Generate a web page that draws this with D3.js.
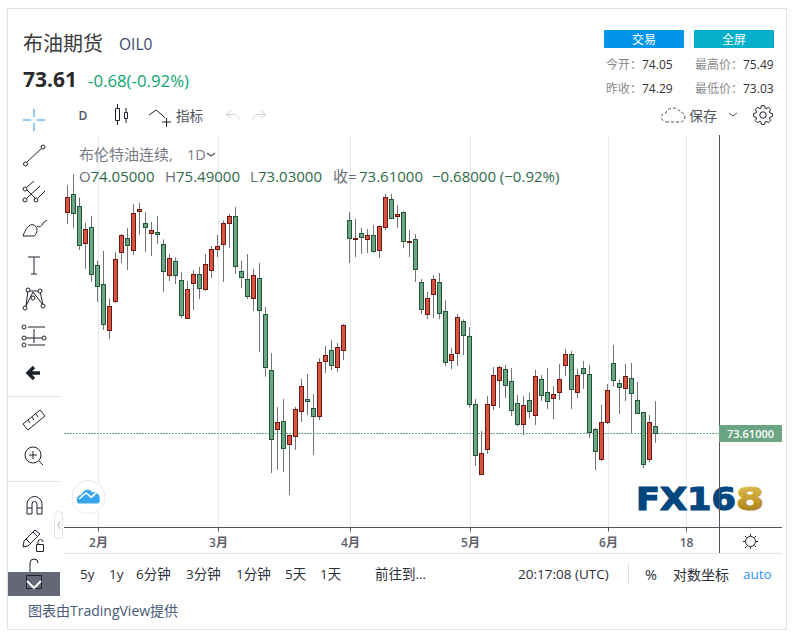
<!DOCTYPE html>
<html>
<head>
<meta charset="utf-8">
<script src="https://cdn.jsdelivr.net/npm/d3@7"></script>
<style>
  html, body { margin: 0; padding: 0; background: #fff; }
  svg { display: block; font-family: "Open Sans", "Noto Sans CJK SC", sans-serif; }
</style>
</head>
<body>
<svg id="chart" width="795" height="633"></svg>
<script>
// daily candles
const opens = [86.57,87.65,86.94,84.75,85.71,83.47,82.35,79.63,81.33,84.22,85.06,84.33,86.63,85.94,85.33,85.41,84.71,82.86,83.71,82.59,
  80.35,82.39,82.94,82.04,83.16,84.39,84.71,85.94,86.35,83.12,82.65,81.51,82.71,80.59,77.30,73.81,74.30,72.93,73.40,74.87,
  75.59,75.06,74.57,77.81,78.47,77.45,78.45,86.12,85.00,85.35,84.98,85.24,84.33,85.69,87.35,86.33,86.59,84.86,85.00,82.47,
  80.57,81.74,82.47,80.76,77.87,78.28,80.18,79.30,75.30,71.16,72.63,75.22,76.69,77.36,76.65,75.36,74.10,75.53,74.63,76.77,
  76.00,75.63,75.98,77.57,78.24,75.98,77.42,77.06,73.83,72.04,74.22,77.71,76.53,76.22,76.83,75.53,74.83,72.04,74.05];
const highs = [88.20,88.84,87.47,85.98,86.37,83.73,84.32,81.53,84.24,85.32,85.67,87.08,87.14,86.61,86.02,86.37,85.00,84.14,83.94,83.06,
  82.55,83.20,83.37,84.14,84.61,85.26,86.12,86.49,86.90,83.73,84.14,83.26,83.61,81.02,78.31,75.14,75.61,73.47,75.14,76.79,
  77.08,75.91,78.02,78.73,79.08,78.90,80.02,86.61,86.20,85.67,85.61,85.84,85.84,87.67,87.67,87.02,86.65,85.55,85.31,82.67,
  81.90,82.90,83.02,81.41,78.61,80.61,80.29,79.84,75.61,73.73,75.79,77.49,77.55,77.61,77.43,75.85,75.79,75.96,77.32,77.02,
  77.43,76.38,77.67,78.55,78.43,77.38,77.85,77.61,73.91,75.26,76.49,78.79,76.77,77.67,77.73,76.61,74.83,74.67,75.49];
const lows = [85.90,85.67,84.37,83.26,82.49,81.32,79.67,79.14,81.26,83.61,83.20,84.08,85.26,84.26,84.02,84.73,81.90,82.55,82.37,80.37,
  80.35,80.84,81.49,81.98,82.73,83.96,82.49,84.49,82.96,82.14,81.49,80.79,78.37,76.92,71.26,71.44,71.32,69.96,72.61,74.26,
  74.67,72.32,74.38,77.14,77.31,77.20,77.90,83.61,83.96,84.14,84.20,84.22,83.90,85.55,86.18,85.67,84.49,83.96,82.49,80.61,
  80.31,80.37,80.31,77.55,77.37,77.55,78.20,75.10,71.67,71.16,72.38,74.96,75.08,75.67,74.61,74.02,73.49,74.49,74.08,75.49,
  75.02,74.43,75.55,76.96,75.02,75.67,76.20,73.32,71.43,71.96,74.14,76.32,74.73,75.49,73.59,74.75,71.55,71.91,73.03];
const closes = [87.47,86.53,84.63,85.59,82.92,82.22,79.98,81.06,83.83,85.24,84.63,86.53,86.77,85.69,85.53,85.28,83.10,83.88,82.86,80.51,
  82.06,82.94,82.10,83.53,84.41,84.59,85.94,86.35,83.39,82.77,81.63,82.88,80.81,77.45,73.22,74.24,72.69,73.47,75.00,76.36,
  75.45,74.57,77.77,78.18,77.57,78.65,79.94,85.04,85.06,85.10,85.24,84.27,85.76,87.47,86.24,86.47,84.86,84.90,83.22,80.86,
  81.53,82.65,80.63,77.75,78.24,80.41,79.33,75.28,72.28,72.42,75.30,77.00,77.47,76.40,74.92,74.10,75.24,74.87,76.94,75.81,
  75.45,75.89,76.77,78.24,76.16,77.00,77.10,73.63,72.51,74.24,76.12,76.69,76.28,76.94,75.92,74.75,71.75,74.24,73.61];

const lastPrice = 73.61;
const crosshairBar = 108.67;
const monthBars = [5, 25, 47, 67, 90, 103];
const monthLabels = ["2月", "3月", "4月", "5月", "6月", "18"];

const legendParts = [
  { text: "O", at: 79, key: true }, { text: "74.05000", at: 90.5 },
  { text: "H", at: 165, key: true }, { text: "75.49000", at: 176 },
  { text: "L", at: 250, key: true }, { text: "73.03000", at: 258 },
  { text: "收=", at: 333, key: true }, { text: "73.61000", at: 359 },
  { text: "−0.68000 (−0.92%)", at: 432 }
];
const intervalButtons = [["5y", 80], ["1y", 109], ["6分钟", 136], ["3分钟", 186], ["1分钟", 236], ["5天", 285], ["1天", 320], ["前往到…", 375]];

const upColor = "#d75442", upBorder = "#6b1a12";
const downColor = "#6ba583", downBorder = "#225437";
const wickColor = "#737375", gridColor = "#e1ecf2", axisColor = "#50535e", lineColor = "#e0e3eb";

const svg = d3.select("#chart");

const x = d3.scaleLinear().domain([0, 98]).range([67.5, 655.5]);
const y = d3.scaleLinear().domain([70, 88]).range([494.37, 188.37]);

function label(txt, px, py, size, color, opts) {
  opts = opts || {};
  return svg.append("text").attr("x", px).attr("y", py)
    .attr("font-size", size).attr("fill", color)
    .attr("font-weight", opts.weight || null)
    .attr("text-anchor", opts.anchor || "start")
    .attr("dominant-baseline", "central")
    .text(txt);
}

// frame
svg.append("rect").attr("x", 7.5).attr("y", 8.5).attr("width", 779).attr("height", 621)
  .attr("fill", "#fff").attr("stroke", lineColor);

// header
label("布油期货", 23, 43, 20, "#3b3b3b");
label("OIL0", 119, 44, 15.5, "#3a4a6b");
label(lastPrice.toFixed(2), 23, 79, 21, "#2a2a2a", { weight: 700 });
label("-0.68(-0.92%)", 88, 80, 16.8, "#0da574");

svg.append("rect").attr("x", 604).attr("y", 30).attr("width", 80).attr("height", 18).attr("fill", "#0095e8");
svg.append("rect").attr("x", 694).attr("y", 30).attr("width", 80).attr("height", 18).attr("fill", "#06afc9");
label("交易", 644, 39.5, 12, "#fff", { anchor: "middle" });
label("全屏", 734, 39.5, 12, "#fff", { anchor: "middle" });

[["今开：", "74.05", 606, 642, 64], ["最高价：", "75.49", 695, 743, 64],
 ["昨收：", "74.29", 606, 642, 88], ["最低价：", "73.03", 695, 743, 88]].forEach(d => {
  label(d[0], d[2], d[4], 12, "#8a8a8a");
  label(d[1], d[3], d[4], 12, "#333");
});

// chart grid
const plot = svg.append("g");
plot.selectAll(".grid").data(monthBars).enter().append("line")
  .attr("class", "grid")
  .attr("x1", d => x(d) + 1).attr("x2", d => x(d) + 1)
  .attr("y1", 135).attr("y2", 527)
  .attr("stroke", gridColor);

// last price line
plot.append("line")
  .attr("x1", 64).attr("x2", 719)
  .attr("y1", y(lastPrice) + 0.5).attr("y2", y(lastPrice) + 0.5)
  .attr("stroke", downColor).attr("stroke-dasharray", "2 1");

// candles
const bars = d3.range(opens.length);
plot.selectAll(".wick").data(bars).enter().append("line")
  .attr("class", "wick")
  .attr("x1", i => x(i)).attr("x2", i => x(i))
  .attr("y1", i => y(highs[i])).attr("y2", i => y(lows[i]))
  .attr("stroke", wickColor);

plot.selectAll(".body").data(bars).enter().append("rect")
  .attr("class", "body")
  .attr("x", i => x(i) - 2)
  .attr("width", 4)
  .attr("y", i => Math.round(y(Math.max(opens[i], closes[i]))) + 0.5)
  .attr("height", i => Math.max(1, Math.round(Math.abs(y(opens[i]) - y(closes[i])))))
  .attr("fill", i => closes[i] >= opens[i] ? upColor : downColor)
  .attr("stroke", i => closes[i] >= opens[i] ? upBorder : downBorder);

// watermark logo
const defs = svg.append("defs");
const gold = defs.append("linearGradient").attr("id", "gold").attr("x1", 0).attr("x2", 0).attr("y1", 0).attr("y2", 1);
gold.append("stop").attr("offset", "0%").attr("stop-color", "#e8c860");
gold.append("stop").attr("offset", "55%").attr("stop-color", "#c49a2c");
gold.append("stop").attr("offset", "100%").attr("stop-color", "#9a7420");
svg.append("text").attr("x", 636).attr("y", 509.5)
  .attr("font-family", "'DejaVu Sans'").attr("font-weight", 700).attr("font-size", 32)
  .attr("fill", "#00467f").attr("stroke", "#00467f").attr("stroke-width", 1.2)
  .attr("textLength", 100).attr("lengthAdjust", "spacingAndGlyphs")
  .text("FX16");
svg.append("text").attr("x", 736).attr("y", 509.5)
  .attr("font-family", "'DejaVu Sans'").attr("font-weight", 700).attr("font-size", 32)
  .attr("fill", "url(#gold)").attr("stroke", "url(#gold)").attr("stroke-width", 1.2)
  .attr("textLength", 28).attr("lengthAdjust", "spacingAndGlyphs")
  .text("8");

// time axis
const axis = svg.append("g").attr("transform", "translate(0,527.5)")
  .call(d3.axisBottom(x).tickValues(monthBars).tickSize(4).tickPadding(6.5)
    .tickFormat((d, i) => monthLabels[i]));
axis.select(".domain").remove();
axis.append("line").attr("x1", 64).attr("x2", 782).attr("stroke", axisColor);
axis.selectAll(".tick").attr("transform", d => `translate(${x(d) + 1},0)`);
axis.selectAll(".tick line").attr("stroke", axisColor);
axis.selectAll(".tick text")
  .attr("font-family", "'Open Sans','Noto Sans CJK SC',sans-serif")
  .attr("font-size", 12).attr("font-weight", 600).attr("fill", "#5d606b");

// price axis + crosshair
svg.append("line")
  .attr("x1", x(crosshairBar)).attr("x2", x(crosshairBar))
  .attr("y1", 135).attr("y2", 553)
  .attr("stroke", axisColor);
svg.append("rect").attr("x", 719).attr("y", y(lastPrice) - 8).attr("width", 63).attr("height", 17).attr("fill", downColor);
label(lastPrice.toFixed(5), 750.5, y(lastPrice) + 0.5, 11, "#fff", { anchor: "middle", weight: 600 });
svg.append("line").attr("x1", 64).attr("x2", 782).attr("y1", 553.5).attr("y2", 553.5).attr("stroke", lineColor);

// legend
label("布伦特油连续,", 79, 154, 15, "#787b86");
label("1D", 187, 154, 14.5, "#787b86");
legendParts.forEach(d => label(d.text, d.at, 175.5, 15, d.key ? "#6a6d78" : "#2f6a49"));

function icon(d, color, width, fill) {
  return svg.append("path").attr("d", d)
    .attr("fill", fill || "none").attr("stroke", color || "#1e222d").attr("stroke-width", width || 1);
}
function dot(cx, cy, r, color) {
  svg.append("circle").attr("cx", cx).attr("cy", cy).attr("r", r || 2)
    .attr("fill", "#fff").attr("stroke", color || "#1e222d");
}
// gear outline with evenly spaced teeth
function gear(cx, cy, outer, inner, teeth) {
  const pts = [];
  for (let k = 0; k < teeth; k++) {
    const a = k * 2 * Math.PI / teeth, w = Math.PI / teeth;
    [[inner, -w * 0.85], [outer, -w * 0.4], [outer, w * 0.4], [inner, w * 0.85]].forEach(p => {
      pts.push([cx + p[0] * Math.cos(a + p[1]), cy + p[0] * Math.sin(a + p[1])]);
    });
  }
  return d3.line().curve(d3.curveLinearClosed)(pts);
}
icon("M207 153l4 3 4-3", "#50535e", 1.3);

// toolbar
label("D", 83, 115, 12, "#50535e", { anchor: "middle", weight: 600 });
icon("M115.5 108.5h4v12h-4zM117.5 104v4M117.5 121v4M124.5 112.5h3v6h-3zM126 108v4M126 119v4", "#1e222d");
icon("M149 115l7-5 6 5 3 3M162 122h9M166.5 118v9", "#1e222d");
label("指标", 176, 115.5, 13.5, "#50535e");
icon("M231 111l-5 3.5 5 3.5M226 114.5h8c3 0 4 2 5 5", "#d1d4dc");
icon("M261 111l5 3.5-5 3.5M266 114.5h-8c-3 0-4 2-5 5", "#d1d4dc");
icon("M668 122c-9 0-8-9-2-9 1-6 12-7 14-1 6 0 7 10 0 10z", "#50535e").attr("stroke-dasharray", "3 2");
label("保存", 689, 115.5, 14, "#50535e");
icon("M729 113l4 3 4-3", "#50535e");
svg.append("circle").attr("cx", 763).attr("cy", 115).attr("r", 3.2).attr("fill", "none").attr("stroke", "#1e222d");
icon(gear(763, 115, 9.5, 7, 8), "#1e222d");

// left tools
icon("M34 109v8M34 123v8M23 120h8M37 120h8", "#2196f3");
icon("M27 162l15-14", "#1e222d"); dot(25.5, 164); dot(43, 147);
icon("M27 187l7-6M27 198l13-12M27 190l9 9M38 198l7-7", "#1e222d"); dot(25, 189); dot(25, 200); dot(36, 200);
icon("M23 236h11c4-3 4-9 0-11-5-2-9 5-11 11zM37 226c3 2 5 0 6-3l4-3", "#1e222d");
icon("M28 257h12M34 257v17M31 274h6", "#1e222d");
icon("M28 290l-2 16 7-14 10 13-3-14-12 0", "#1e222d"); dot(28, 290); dot(40, 291); dot(33, 298); dot(25, 308); dot(43, 306);
icon("M28 327h17M26 338h19M28 345h17M34 329v14", "#1e222d"); dot(24, 327); dot(24, 338); dot(44, 338); dot(24, 345);
icon("M40 373H29M34 367l-6 6 6 6", "#1e222d", 3.4);
icon("M8 396.5h52M8 481.5h52", lineColor);
icon("M23 424l17-14 5 6-17 14zM28 420l2 3M32 417l2 3M36 414l2 3", "#1e222d");
svg.append("circle").attr("cx", 33).attr("cy", 455).attr("r", 8).attr("fill", "none").attr("stroke", "#1e222d");
icon("M29 455h8M33 451v8M39 461l4 4", "#1e222d");
icon("M27 514v-10a7.5 7.5 0 0 1 15 0v10h-5v-10a2.5 2.5 0 0 0-5 0v10zM27 508h5M37 508h5", "#1e222d");
icon("M24 541l11-11 5 4-12 12-5 1zM33 532l4 4M26 539l4 4", "#1e222d");
icon("M36.5 544.5h7v7h-7zM38 544v-2a2.5 2.5 0 0 1 5 0", "#1e222d");
svg.append("rect").attr("x", 8).attr("y", 572).attr("width", 52).attr("height", 24).attr("fill", "#646775");
icon("M30 572v-9a4 4 0 0 1 8 0M26.5 575.5h15v13h-15z", "#1e222d");
icon("M27 581l7 7 7-7", "#fff", 2);
svg.append("rect").attr("x", 54.5).attr("y", 511.5).attr("width", 8).attr("height", 27).attr("rx", 4).attr("fill", "#fff").attr("stroke", lineColor);
icon("M60 521l-2 4 2 4", "#b2b5be");

// TradingView badge
svg.append("circle").attr("cx", 88.5).attr("cy", 497).attr("r", 16.5).attr("fill", "#fff").attr("stroke", "#e8eaef");
icon("M78 503c-2-4 0-8 4-8 1-5 8-7 10-2 4-2 8 2 7 6 1 2 0 4-1 4zM79 501l7-6 5 4 6-5", "#37a6ef", 1, "#37a6ef");
icon("M79 499l7-6 5 4 6-5", "#fff", 1.4);

// sun icon on the time axis
svg.append("circle").attr("cx", 750.5).attr("cy", 541.5).attr("r", 5).attr("fill", "none").attr("stroke", "#1e222d");
icon("M750.5 534v2M750.5 547v2M743 541.5h2M756 541.5h2M745 536l1.5 1.5M754.5 545.5l1.5 1.5M745 548l1.5-1.5M754.5 537.5l1.5-1.5", "#1e222d");

// bottom bar
intervalButtons.forEach(d => label(d[0], d[1], 574, 13.5, "#2a2e39"));
label("20:17:08 (UTC)", 518, 574, 13.5, "#2a2e39");
svg.append("line").attr("x1", 628.5).attr("x2", 628.5).attr("y1", 562).attr("y2", 584).attr("stroke", lineColor);
label("%", 645, 574, 14.5, "#2a2e39");
label("对数坐标", 673, 574, 14, "#2a2e39");
label("auto", 743, 574, 13.5, "#2f94f5");
label("图表由TradingView提供", 28, 610, 14, "#4a5a78");
</script>
</body>
</html>
